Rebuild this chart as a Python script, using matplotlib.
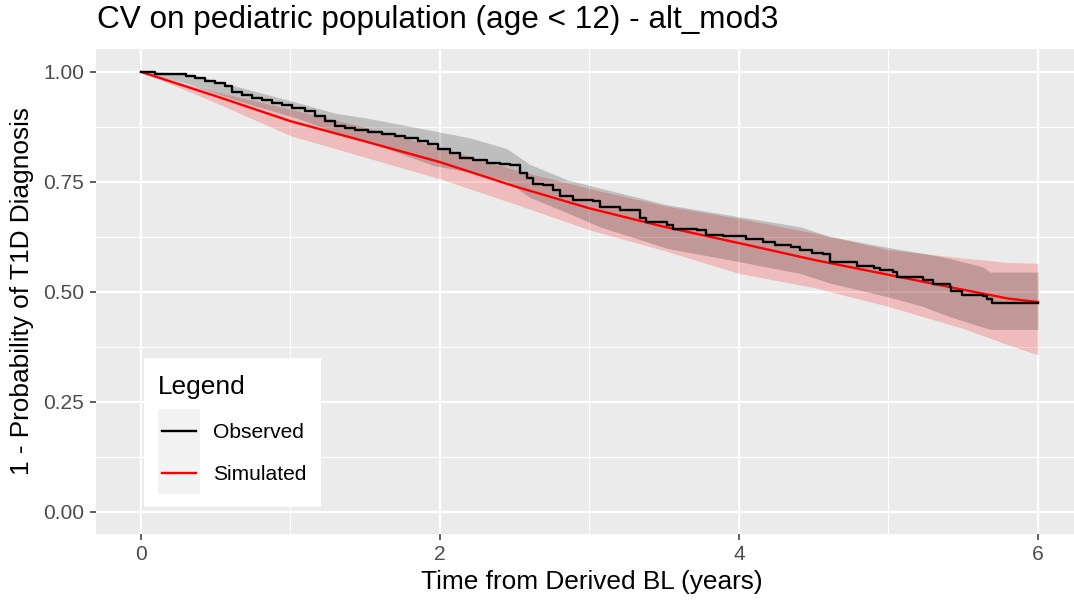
import matplotlib
matplotlib.use("Agg")
import matplotlib.pyplot as plt
from matplotlib.patches import Rectangle
from matplotlib.lines import Line2D
import numpy as np

plt.rcParams['font.family'] = ['Liberation Sans', 'DejaVu Sans']

# ---------------- data ----------------
# Observed Kaplan-Meier step curve: (time, survival after step)
obs_t = [0.0, 0.094, 0.30, 0.36, 0.43, 0.495, 0.56, 0.607, 0.673, 0.74, 0.807, 0.874,
         0.941, 1.008, 1.097, 1.164, 1.23, 1.298, 1.365, 1.43, 1.521, 1.61, 1.70,
         1.766, 1.855, 1.92, 1.989, 2.067, 2.134, 2.223, 2.312, 2.40, 2.468, 2.535,
         2.58, 2.624, 2.69, 2.758, 2.803, 2.89, 3.026, 3.07, 3.204, 3.338, 3.38,
         3.52, 3.56, 3.72, 3.78, 3.895, 4.03, 4.05, 4.16, 4.24, 4.35, 4.41, 4.486,
         4.564, 4.61, 4.72, 4.787, 4.90, 4.943, 5.03, 5.055, 5.19, 5.233, 5.30,
         5.41, 5.42, 5.49, 5.63, 5.657, 5.69, 6.0]
obs_s = [1.0, 0.995, 0.991, 0.986, 0.980, 0.974, 0.967, 0.955, 0.948, 0.940, 0.935, 0.929,
         0.924, 0.919, 0.910, 0.899, 0.889, 0.878, 0.872, 0.868, 0.864, 0.859, 0.855,
         0.849, 0.842, 0.836, 0.824, 0.815, 0.805, 0.800, 0.794, 0.790, 0.789, 0.770,
         0.758, 0.745, 0.742, 0.732, 0.718, 0.709, 0.707, 0.692, 0.686, 0.667, 0.660,
         0.652, 0.643, 0.641, 0.630, 0.627, 0.626, 0.620, 0.614, 0.607, 0.601, 0.595, 0.588,
         0.586, 0.569, 0.567, 0.560, 0.554, 0.549, 0.546, 0.535, 0.533, 0.526, 0.518,
         0.512, 0.503, 0.493, 0.491, 0.484, 0.474, 0.474]

# Observed confidence band
obs_ci_t = [0.0, 0.1, 0.3, 0.64, 1.06, 1.3, 1.51, 1.96, 2.2, 2.446, 2.6, 2.85, 3.07, 3.52,
            4.0, 4.41, 4.61, 5.03, 5.23, 5.41, 5.63, 5.68, 6.0]
obs_hi = [1.0, 1.0, 0.997, 0.967, 0.929, 0.906, 0.895, 0.866, 0.850, 0.826, 0.79, 0.755,
          0.736, 0.698, 0.671, 0.648, 0.626, 0.599, 0.588, 0.576, 0.557, 0.545, 0.545]
obs_lo = [1.0, 0.99, 0.975, 0.935, 0.893, 0.862, 0.842, 0.787, 0.772, 0.752, 0.715, 0.68,
          0.648, 0.599, 0.569, 0.542, 0.52, 0.486, 0.467, 0.444, 0.42, 0.415, 0.415]

# Simulated median and prediction band
sim_t = [0.0, 0.5, 1.0, 1.5, 2.0, 2.5, 3.0, 3.5, 4.0, 4.5, 5.0, 5.5, 5.8, 6.0]
sim_med = [1.0, 0.945, 0.888, 0.842, 0.795, 0.740, 0.690, 0.648, 0.611, 0.573, 0.539,
           0.505, 0.485, 0.477]
sim_hi = [1.0, 0.955, 0.915, 0.874, 0.828, 0.778, 0.735, 0.696, 0.667, 0.634, 0.596,
          0.577, 0.567, 0.565]
sim_lo = [1.0, 0.930, 0.855, 0.806, 0.757, 0.700, 0.641, 0.594, 0.542, 0.510, 0.467,
          0.417, 0.38, 0.357]

x_ticks = [0, 2, 4, 6]
y_ticks = [0.00, 0.25, 0.50, 0.75, 1.00]
y_ticklabels = ["0.00", "0.25", "0.50", "0.75", "1.00"]

# ---------------- figure ----------------
W, H = 1074, 603
fig = plt.figure(figsize=(W / 100, H / 100), dpi=100)
fig.patch.set_facecolor('white')

pl, pr, pt, pb = 96, 1074, 49, 534
ax = fig.add_axes([pl / W, 1 - pb / H, (pr - pl) / W, (pb - pt) / H])
ax.set_facecolor('#EBEBEB')
for s in ax.spines.values():
    s.set_visible(False)

ax.set_xlim(-0.301, 6.241)
ax.set_ylim(-0.05, 1.052)

# grid
for v in [1, 3, 5]:
    ax.axvline(v, color='white', lw=0.8, zorder=0.5)
for v in [0.125, 0.375, 0.625, 0.875]:
    ax.axhline(v, color='white', lw=0.8, zorder=0.5)
for v in x_ticks:
    ax.axvline(v, color='white', lw=1.6, zorder=0.6)
for v in y_ticks:
    ax.axhline(v, color='white', lw=1.6, zorder=0.6)

# ribbons
ax.fill_between(sim_t, sim_lo, sim_hi, color=(1, 0, 0), alpha=0.2, lw=0, zorder=1)
ax.fill_between(obs_ci_t, obs_lo, obs_hi, color='black', alpha=0.19, lw=0, zorder=2)

# lines
ax.plot(sim_t, sim_med, color='red', lw=1.7, zorder=3)
ax.plot(obs_t, obs_s, color='black', lw=1.7, drawstyle='steps-post', zorder=4)

# ticks
ax.set_xticks(x_ticks)
ax.set_xticklabels([str(v) for v in x_ticks])
ax.set_yticks(y_ticks)
ax.set_yticklabels(y_ticklabels)
ax.tick_params(axis='both', length=4.3, width=1.1, color='#333333',
               labelcolor='#4D4D4D', labelsize=15.1)
ax.tick_params(axis='y', pad=4.5)
ax.tick_params(axis='x', pad=3.5)

# titles
fig.text(97 / W, 1 - 20 / H, "CV on pediatric population (age < 12) - alt_mod3",
         fontsize=22.7, ha='left', va='center', color='black')
fig.text(592 / W, 1 - 582 / H, "Time from Derived BL (years)", fontsize=18.9,
         ha='center', va='center', color='black')
fig.text(22 / W, 1 - 291 / H, "1 - Probability of T1D Diagnosis", fontsize=18.9,
         ha='center', va='center', rotation=90, color='black')

# legend (drawn manually in figure pixels)
def fx(px):
    return px / W

def fy(py):
    return 1 - py / H

fig.patches.append(Rectangle((fx(144), fy(507)), (321 - 144) / W, (507 - 358) / H,
                             transform=fig.transFigure, facecolor='white',
                             edgecolor='none', zorder=5))
fig.patches.append(Rectangle((fx(158), fy(494)), (200 - 158) / W, (494 - 409) / H,
                             transform=fig.transFigure, facecolor='#F2F2F2',
                             edgecolor='none', zorder=6))
fig.lines.append(Line2D([fx(162), fx(196)], [fy(431), fy(431)], transform=fig.transFigure,
                        color='black', lw=1.7, zorder=7))
fig.lines.append(Line2D([fx(162), fx(196)], [fy(473), fy(473)], transform=fig.transFigure,
                        color='red', lw=1.7, zorder=7))
fig.text(fx(158), fy(394), "Legend", fontsize=18.9, ha='left', va='baseline', zorder=8)
fig.text(fx(213), fy(432), "Observed", fontsize=15.1, ha='left', va='center', zorder=8)
fig.text(fx(213), fy(474), "Simulated", fontsize=15.1, ha='left', va='center', zorder=8)

fig.savefig("out.png", dpi=100)
